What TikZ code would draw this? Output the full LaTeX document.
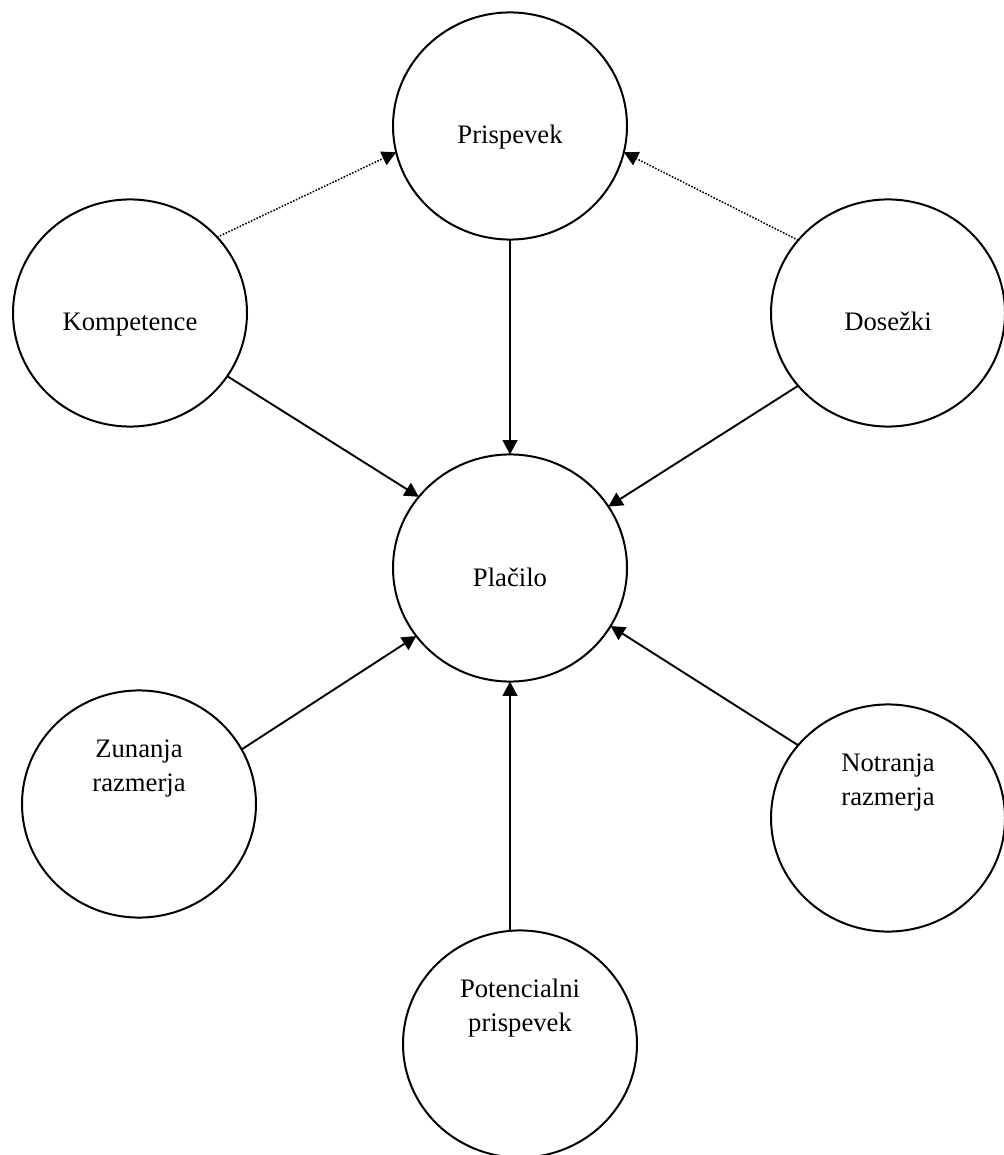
\documentclass[tikz,border=0pt]{standalone}
\usepackage{fontspec}
\setmainfont{Liberation Serif}
\usetikzlibrary{arrows.meta,shapes.geometric}

\begin{document}
\begin{tikzpicture}[x=0.45pt,y=-0.45pt,>={Triangle[length=6.4pt,width=6.6pt]},
  krog/.style={draw,line width=0.9pt,ellipse,minimum width=105.3pt,minimum height=102.2pt,inner sep=0pt,outer sep=0pt},
  ena/.style={font=\fontsize{12}{15.3}\selectfont,text height=8.2pt,text depth=2.6pt,yshift=-5.3pt},
  dve/.style={font=\fontsize{12}{15.3}\selectfont,align=center,yshift=16.15pt},
  vpliv/.style={->,line width=0.85pt},
  posredno/.style={->,line width=0.7pt,dash pattern=on 0.7pt off 0.7pt}]
\useasboundingbox (0,0) rectangle (1003,1155);
% krogi
\node[krog,label={[ena]center:Prispevek}] (pri) at (510,126) {};
\node[krog,label={[ena]center:Kompetence}] (kom) at (130,313) {};
\node[krog,label={[ena]center:Dosežki}] (dos) at (888,313) {};
\node[krog,label={[ena]center:Plačilo}] (pla) at (510,568) {};
\node[krog,label={[dve]center:Zunanja\\razmerja}] (zun) at (139,804) {};
\node[krog,label={[dve]center:Notranja\\razmerja}] (notr) at (888,818) {};
\node[krog,label={[dve]center:Potencialni\\prispevek}] (pot) at (520,1044) {};
% puscice
\draw[vpliv] (pri.south) -- (pla.north);
\draw[vpliv] (kom.-33) -- (pla.142);
\draw[vpliv] (dos.219) -- (pla.32);
\draw[vpliv] (zun.28) -- (pla.216);
\draw[vpliv] (notr.141) -- (pla.-30);
\draw[vpliv] (pot.north -| pla.south) -- (pla.south);
\draw[posredno] (kom.41) -- (pri.193);
\draw[posredno] (dos.141) -- (pri.-13);
\end{tikzpicture}
\end{document}
